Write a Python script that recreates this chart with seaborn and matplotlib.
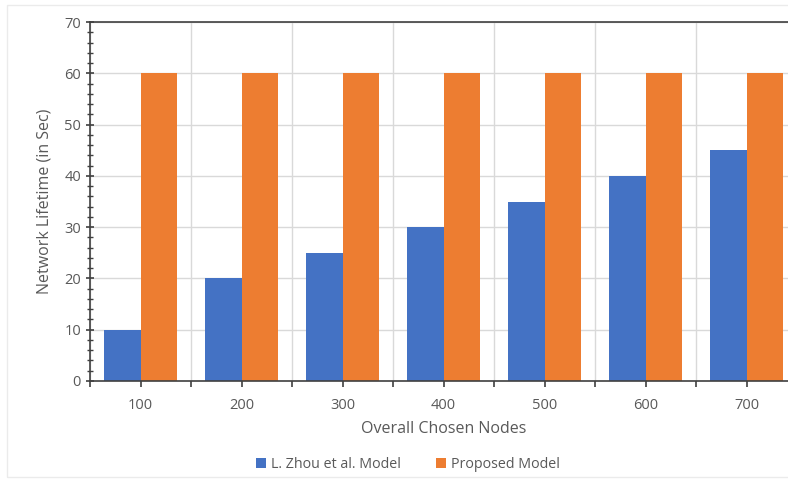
import pandas as pd
import matplotlib.pyplot as plt
import matplotlib.patches as mpatches
from matplotlib.ticker import MultipleLocator, FixedLocator
import seaborn as sns

# Dados do gráfico
nodes = ["100", "200", "300", "400", "500", "600", "700"]
zhou = [10, 20, 25, 30, 35, 40, 45]
proposed = [60, 60, 60, 60, 60, 60, 60]
series_names = ["L. Zhou et al. Model", "Proposed Model"]
colors = ["#4472C4", "#ED7D31"]

df = pd.DataFrame({
    "Nodes": nodes * 2,
    "Lifetime": zhou + proposed,
    "Model": [series_names[0]] * len(nodes) + [series_names[1]] * len(nodes),
})

sns.set_style("white")
plt.rcParams["font.family"] = ["Open Sans", "DejaVu Sans"]
text_color = "#595959"

fig = plt.figure(figsize=(7.88, 4.79), dpi=100)
ax = fig.add_axes([90 / 788, 1 - 381 / 479, (797 - 90) / 788, (381 - 22) / 479])

sns.barplot(data=df, x="Nodes", y="Lifetime", hue="Model", palette=colors,
            width=0.73, gap=0, saturation=1, linewidth=0, ax=ax, legend=True)

ax.set_ylim(0, 70)
ax.set_xlim(-0.5, 6.5)
ax.yaxis.set_major_locator(MultipleLocator(10))
ax.yaxis.set_minor_locator(MultipleLocator(2))
ax.xaxis.set_minor_locator(FixedLocator([i - 0.5 for i in range(8)]))

ax.grid(axis="y", which="major", color="#D9D9D9", lw=1)
ax.grid(axis="x", which="minor", color="#D9D9D9", lw=1)
ax.set_axisbelow(True)

for s in ["left", "bottom", "top"]:
    ax.spines[s].set_color("#404040")
    ax.spines[s].set_linewidth(1.2)
ax.spines["right"].set_visible(False)

ax.tick_params(axis="y", which="major", direction="inout", length=6, width=1.2,
               color="#404040", labelsize=10.5, labelcolor=text_color, left=True)
ax.tick_params(axis="y", which="minor", direction="inout", length=4, width=1,
               color="#404040", left=True)
ax.tick_params(axis="x", which="both", direction="out", length=4, width=1.2,
               color="#404040", labelsize=10.5, labelcolor=text_color, bottom=True, pad=8)

ax.set_xlabel("Overall Chosen Nodes", fontsize=11.5, color=text_color, labelpad=6)
ax.set_ylabel("Network Lifetime (in Sec)", fontsize=11.5, color=text_color, labelpad=8)

ax.legend(ncol=2, frameon=False,
          handlelength=0.7, handleheight=0.7, handletextpad=0.4,
          columnspacing=2.4, fontsize=10.3, labelcolor=text_color)
leg = ax.get_legend()
leg.set_loc("upper center")
leg.set_bbox_to_anchor((408 / 788, 1 - 444 / 479), transform=fig.transFigure)

# moldura clara em volta da figura
fig.patches.append(mpatches.Rectangle((7 / 788, 0.005), 1, 1 - 5 / 479 - 0.005,
                                      transform=fig.transFigure, fill=False,
                                      edgecolor="#EBEBEB", lw=1))

plt.savefig("out.png", dpi=100)
plt.close()
